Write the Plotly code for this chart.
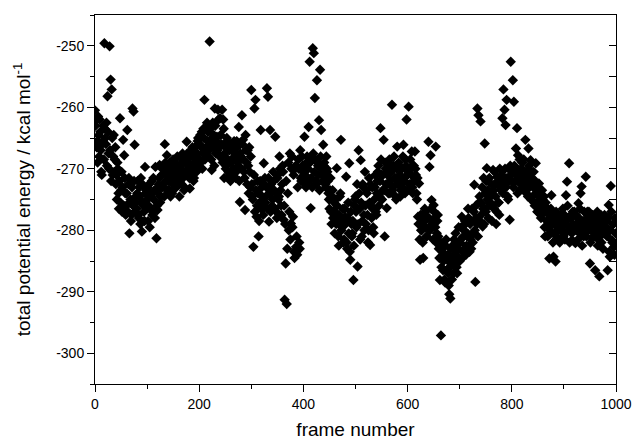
import plotly.graph_objects as go

# potential energy per frame: even frames (0, 2, ..., 998)
energy_even = [
    -260.5, -262.0, -265.5, -261.5, -268.0, -264.0, -270.5, -266.0, -263.0, -249.6,
    -265.0, -262.5, -258.2, -267.5, -250.1, -255.5, -257.1, -271.0, -264.5, -268.5,
    -272.5, -275.0, -270.0, -276.5, -261.8, -273.5, -277.0, -265.3, -267.8, -274.0,
    -276.0, -263.7, -272.5, -280.5, -275.0, -277.5, -260.2, -260.7, -266.1, -274.5,
    -276.5, -272.0, -278.0, -274.5, -271.5, -280.2, -275.5, -277.0, -269.7, -273.5,
    -275.0, -278.5, -272.5, -276.5, -274.0, -277.5, -271.5, -273.5, -269.7, -281.3,
    -276.7, -272.5, -269.4, -274.5, -271.0, -273.0, -270.0, -266.0, -272.0, -267.8,
    -270.5, -273.5, -269.0, -271.5, -274.0, -268.5, -272.0, -270.0, -273.0, -268.0,
    -271.0, -274.5, -269.5, -272.5, -267.5, -270.5, -273.0, -268.5, -265.6, -271.0,
    -269.0, -273.2, -267.0, -270.5, -268.0, -271.5, -266.5, -269.5, -267.5, -265.0,
    -268.5, -264.5, -266.5, -270.0, -263.5, -258.8, -267.0, -263.4, -265.5, -268.0,
    -249.3, -266.0, -270.2, -262.5, -264.5, -260.2, -267.5, -264.8, -260.4, -266.5,
    -261.8, -268.0, -260.4, -262.0, -271.5, -266.5, -269.5, -265.5, -270.5, -267.0,
    -272.0, -268.5, -266.0, -270.0, -267.5, -271.5, -265.5, -269.0, -263.2, -275.4,
    -268.0, -261.3, -265.3, -270.5, -276.7, -267.0, -272.5, -269.5, -266.5, -273.0,
    -257.2, -274.5, -282.7, -260.2, -258.8, -277.8, -272.0, -281.0, -275.5, -263.7,
    -273.0, -276.5, -269.1, -271.5, -274.5, -256.9, -258.3, -278.6, -263.7, -272.5,
    -276.0, -270.5, -273.5, -264.8, -277.0, -271.5, -275.0, -268.0, -273.5, -277.5,
    -269.5, -278.3, -291.3, -285.4, -292.0, -274.0, -280.0, -267.5, -278.9, -268.0,
    -277.8, -283.5, -270.0, -282.7, -284.0, -268.5, -282.0, -267.0, -272.0, -269.5,
    -270.5, -264.8, -272.5, -269.0, -271.5, -263.2, -252.6, -276.4, -268.5, -250.4,
    -251.2, -258.5, -272.0, -255.6, -269.5, -262.1, -253.9, -263.7, -271.0, -266.1,
    -269.0, -272.5, -268.0, -270.5, -274.0, -276.5, -271.5, -279.0, -273.5, -277.0,
    -280.5, -275.0, -269.9, -278.0, -282.5, -274.5, -265.3, -279.5, -276.5, -281.5,
    -277.8, -271.3, -283.0, -275.5, -269.1, -284.8, -279.0, -280.5, -288.1, -276.0,
    -274.5, -279.5, -285.9, -267.0, -276.5, -268.6, -281.0, -272.5, -277.5, -270.5,
    -279.0, -274.0, -282.0, -271.5, -282.4, -276.0, -273.0, -279.5, -275.0, -271.0,
    -277.5, -272.0, -269.5, -274.5, -263.4, -271.0, -273.5, -265.3, -281.0, -270.0,
    -276.4, -272.5, -269.0, -274.0, -270.5, -259.6, -273.0, -268.0, -271.5, -275.0,
    -266.4, -272.0, -269.5, -274.5, -270.0, -273.0, -266.1, -271.5, -268.5, -262.0,
    -273.5, -259.9, -270.0, -272.5, -267.2, -274.0, -269.5, -267.2, -271.0, -275.0,
    -277.8, -272.4, -284.8, -280.0, -278.5, -284.5, -279.5, -277.0, -281.0, -278.0,
    -265.6, -269.7, -267.8, -275.1, -279.0, -275.9, -278.0, -266.4, -280.5, -277.5,
    -283.0, -288.1, -297.1, -282.1, -286.5, -284.0, -288.5, -281.5, -284.8, -287.0,
    -290.4, -291.1, -285.5, -282.5, -287.0, -284.0, -280.5, -286.0, -283.0, -279.5,
    -285.0, -281.5, -277.8, -283.5, -280.0, -278.5, -284.0, -281.0, -276.5, -282.5,
    -279.0, -283.0, -276.5, -280.5, -272.6, -288.4, -278.0, -260.2, -261.3, -274.5,
    -262.3, -275.6, -279.4, -271.5, -265.9, -277.0, -269.9, -273.5, -276.0, -275.4,
    -274.0, -278.5, -270.2, -276.5, -272.5, -279.0, -271.3, -275.5, -277.5, -273.0,
    -271.5, -261.8, -257.1, -260.4, -262.9, -258.8, -274.5, -270.0, -278.3, -252.6,
    -272.0, -255.6, -259.1, -270.7, -266.7, -263.4, -267.8, -271.0, -273.5, -270.0,
    -269.0, -272.5, -270.5, -265.3, -274.0, -271.0, -266.7, -273.0, -268.6, -271.5,
    -274.5, -270.5, -276.0, -269.1, -273.0, -277.0, -272.4, -275.0, -278.0, -273.5,
    -276.5, -274.5, -281.0, -276.2, -279.4, -277.2, -284.6, -280.5, -274.3, -278.0,
    -284.3, -279.0, -285.1, -281.0, -277.5, -279.5, -282.0, -278.5, -280.0, -276.5,
    -279.0, -281.5, -274.3, -272.1, -278.0, -269.1, -280.0, -277.5, -281.6, -279.0,
    -277.0, -282.1, -279.5, -278.0, -275.6, -280.5, -274.0, -272.9, -279.0, -281.0,
    -278.5, -271.3, -280.0, -277.5, -277.0, -285.4, -279.5, -281.3, -278.0, -280.5,
    -286.5, -279.0, -277.0, -281.5, -287.5, -279.5, -282.0, -278.0, -280.5, -277.5,
    -280.0, -278.5, -286.5, -275.9, -284.3, -272.8, -281.6, -279.0, -282.7, -278.0,
]
# potential energy per frame: odd frames (1, 3, ..., 999)
energy_odd = [
    -263.0, -266.5, -269.0, -264.5, -262.0, -267.0, -271.0, -265.5, -268.5, -263.5,
    -266.0, -269.5, -264.0, -270.0, -267.0, -272.0, -265.0, -268.0, -270.5, -266.5,
    -271.0, -269.0, -274.0, -272.0, -275.5, -270.5, -273.0, -276.0, -271.5, -277.5,
    -274.0, -277.0, -271.5, -275.5, -278.5, -273.0, -276.0, -272.0, -277.0, -275.5,
    -274.0, -277.5, -273.0, -279.0, -275.5, -272.5, -276.0, -278.5, -274.0, -276.5,
    -273.0, -276.0, -279.5, -274.5, -272.0, -277.0, -275.0, -278.0, -273.5, -276.0,
    -274.0, -271.5, -275.5, -273.0, -270.0, -272.5, -274.5, -269.0, -271.0, -273.5,
    -272.0, -269.5, -274.5, -270.5, -272.5, -271.0, -269.0, -273.0, -270.5, -272.0,
    -269.5, -272.0, -270.0, -268.5, -271.5, -273.5, -269.0, -271.0, -267.5, -270.0,
    -271.5, -268.0, -270.0, -266.5, -272.0, -269.0, -267.5, -270.5, -265.5, -268.5,
    -266.0, -269.0, -264.0, -267.5, -265.0, -268.5, -266.5, -262.5, -264.0, -267.0,
    -263.5, -268.5, -265.0, -266.5, -269.5, -263.0, -265.5, -267.0, -262.0, -268.0,
    -264.5, -266.0, -269.0, -263.5, -267.5, -270.0, -265.0, -268.5, -266.0, -271.0,
    -269.0, -267.0, -271.0, -265.5, -268.0, -270.5, -266.5, -269.5, -272.0, -267.5,
    -270.0, -266.0, -268.5, -271.5, -264.5, -269.0, -267.0, -274.0, -270.5, -268.0,
    -272.5, -275.0, -271.0, -277.0, -273.5, -276.0, -274.0, -278.5, -272.0, -276.5,
    -274.5, -277.5, -272.5, -275.5, -273.0, -276.5, -271.5, -274.0, -277.0, -273.5,
    -275.0, -272.0, -276.5, -274.0, -278.0, -271.0, -274.5, -270.0, -276.0, -272.5,
    -270.5, -276.0, -279.0, -272.0, -283.0, -269.0, -277.0, -281.5, -270.0, -279.5,
    -271.0, -284.5, -269.5, -281.0, -273.0, -270.0, -283.0, -271.5, -268.0, -270.5,
    -269.5, -271.0, -273.0, -268.0, -270.0, -272.0, -269.0, -271.5, -273.0, -267.5,
    -270.5, -268.5, -272.5, -269.0, -271.0, -273.5, -268.0, -270.0, -272.0, -269.5,
    -271.0, -273.0, -270.0, -272.0, -275.0, -273.5, -277.0, -274.5, -278.0, -275.5,
    -277.0, -279.0, -276.0, -281.0, -277.5, -274.0, -280.0, -278.5, -282.0, -276.5,
    -279.0, -282.0, -278.0, -280.5, -283.5, -277.0, -281.0, -278.5, -282.5, -275.0,
    -277.0, -272.5, -279.0, -274.0, -281.5, -275.5, -278.5, -273.0, -280.0, -276.0,
    -273.5, -277.5, -280.0, -275.5, -272.5, -278.0, -276.5, -280.5, -273.0, -277.0,
    -274.0, -270.5, -276.0, -272.0, -268.5, -275.0, -271.0, -273.5, -269.0, -272.5,
    -271.0, -274.0, -268.5, -272.0, -270.0, -273.5, -269.5, -271.5, -274.5, -270.0,
    -272.5, -269.0, -271.0, -273.5, -270.0, -268.0, -272.0, -274.0, -269.5, -271.0,
    -270.5, -272.5, -268.5, -271.0, -273.0, -269.5, -272.0, -270.0, -274.0, -271.5,
    -279.0, -281.5, -277.5, -280.0, -282.0, -278.5, -276.5, -279.5, -281.0, -278.0,
    -278.0, -280.0, -276.5, -279.0, -281.5, -277.0, -279.5, -282.0, -278.5, -281.0,
    -284.5, -282.0, -286.0, -283.5, -285.0, -288.0, -282.5, -286.5, -284.0, -289.0,
    -286.0, -283.0, -288.0, -284.5, -281.5, -285.5, -283.5, -287.0, -282.0, -284.5,
    -282.0, -279.5, -284.5, -281.0, -283.0, -279.0, -282.5, -280.5, -278.0, -283.5,
    -281.5, -278.5, -282.0, -277.0, -280.0, -276.0, -279.0, -281.0, -275.5, -278.5,
    -277.5, -273.0, -276.5, -279.0, -274.0, -272.0, -275.0, -278.0, -271.5, -274.5,
    -272.5, -276.0, -273.5, -270.5, -274.5, -277.0, -272.0, -275.5, -270.0, -273.5,
    -271.0, -274.0, -272.5, -270.0, -273.0, -271.5, -275.0, -272.0, -269.5, -271.0,
    -270.5, -273.0, -269.5, -272.0, -270.0, -274.0, -271.5, -268.5, -272.5, -270.0,
    -271.5, -268.5, -273.0, -270.5, -272.0, -274.5, -269.5, -272.5, -275.0, -270.5,
    -273.0, -275.5, -272.0, -274.0, -277.0, -273.5, -276.0, -274.5, -277.5, -275.0,
    -277.0, -279.5, -275.5, -278.5, -281.0, -277.5, -280.0, -276.5, -279.0, -282.0,
    -278.0, -280.5, -277.0, -279.5, -281.5, -278.5, -280.0, -277.5, -279.0, -281.0,
    -277.5, -280.5, -278.5, -276.0, -279.5, -282.0, -278.0, -280.5, -277.0, -279.5,
    -280.0, -277.5, -279.0, -281.5, -278.0, -276.5, -280.0, -282.5, -278.5, -277.0,
    -279.0, -281.0, -277.0, -280.0, -278.5, -282.0, -279.5, -277.5, -281.0, -279.0,
    -280.0, -278.0, -282.5, -279.0, -281.0, -277.5, -280.5, -283.0, -278.5, -280.0,
    -279.5, -281.0, -278.0, -283.5, -280.0, -277.0, -282.0, -279.0, -284.0, -280.5,
]
frames_even = list(range(0, 2 * len(energy_even), 2))
frames_odd = list(range(1, 2 * len(energy_odd), 2))

x_ticks = [0, 200, 400, 600, 800, 1000]
x_ticktext = ["0", "200", "400", "600", "800", "1000"]
y_ticks = [-300, -290, -280, -270, -260, -250]
y_ticktext = ["-300", "-290", "-280", "-270", "-260", "-250"]
y_range = [-305, -245]
x_range = [0, 1000]

FONT = "Liberation Sans, Arial, sans-serif"

fig = go.Figure()
fig.add_trace(go.Scatter(
    x=frames_even + frames_odd, y=energy_even + energy_odd, mode="markers",
    marker=dict(symbol="diamond", size=8, color="black", line=dict(width=0)),
    showlegend=False, hoverinfo="x+y",
))
# dummy trace to keep the right-hand tick axis alive
fig.add_trace(go.Scatter(x=[x_range[0]], y=[y_range[0]], yaxis="y2", mode="markers",
                         marker=dict(opacity=0), showlegend=False, hoverinfo="skip"))

fig.update_layout(
    width=632, height=440,
    margin=dict(l=95, r=16, t=15, b=56),
    paper_bgcolor="white", plot_bgcolor="white",
    font=dict(family=FONT, color="black"),
    xaxis=dict(
        range=x_range, tickvals=x_ticks, ticktext=x_ticktext, automargin=False,
        ticks="outside", ticklen=7, tickwidth=1, tickcolor="black",
        showline=True, linecolor="black", linewidth=1, mirror=True,
        showgrid=False, zeroline=False,
        tickfont=dict(family=FONT, size=14, color="black"),
        minor=dict(ticks="outside", ticklen=4, dtick=100, tick0=0, tickcolor="black", showgrid=False),
        title=dict(text="frame number", font=dict(family=FONT, size=19, color="black"), standoff=12),
    ),
    yaxis=dict(
        range=y_range, tickvals=y_ticks, ticktext=y_ticktext, automargin=False,
        ticks="outside", ticklen=7, tickwidth=1, tickcolor="black",
        showline=True, linecolor="black", linewidth=1, mirror=True,
        showgrid=False, zeroline=False,
        tickfont=dict(family=FONT, size=14, color="black"),
        minor=dict(ticks="outside", ticklen=4, dtick=5, tick0=0, tickcolor="black", showgrid=False),
        title=dict(text="total potential energy / kcal mol<sup>-1</sup>",
                   font=dict(family=FONT, size=19, color="black"), standoff=20),
    ),
    yaxis2=dict(
        overlaying="y", side="right", range=y_range, dtick=5, tick0=0, automargin=False,
        ticks="inside", ticklen=7, tickwidth=1, tickcolor="black",
        showticklabels=False, showline=False, showgrid=False, zeroline=False,
    ),
)

fig.write_html("out.html", config={"displayModeBar": False},
               post_script="document.body.style.margin='0px';")
